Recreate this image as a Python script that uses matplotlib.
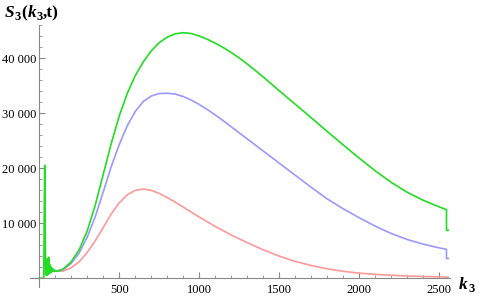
import matplotlib
matplotlib.use("Agg")
import matplotlib.pyplot as plt
from matplotlib.ticker import FixedLocator, FuncFormatter

plt.rcParams['font.family'] = ['Liberation Serif', 'DejaVu Serif']

# ---- data ----
k_green = [0, 28, 31, 34, 37, 40, 44, 48, 52, 56, 60, 64, 68, 72, 76, 80, 85, 90, 95, 100, 110, 120,
           150, 200, 250, 300, 350, 400, 450, 500, 550, 600, 650, 700, 750, 800, 850, 900, 950,
           1000, 1050, 1100, 1150, 1200, 1250, 1300, 1350, 1400, 1450, 1500, 1600, 1700, 1800, 1900,
           2000, 2100, 2200, 2300, 2400, 2500, 2545, 2545.1, 2556]
s_green = [0, 0, 12000, 20500, 9000, 600, 3200, 500, 3600, 700, 3800, 900, 2400, 1000, 2000, 1200, 1700,
           1250, 1500, 1300, 1250, 1300,
           1700, 3000, 5200, 8600, 13300, 18900, 24500, 29500, 33600, 36800, 39300, 41300, 42800,
           43800, 44400, 44600, 44450,
           44000, 43400, 42700, 41900, 41000, 40000, 38900, 37750, 36550, 35300, 34050, 31600, 29150,
           26650, 24200, 21800, 19500, 17400, 15600, 14150, 12950, 12450, 8700, 8700]

k_blue = [50, 100, 150, 200, 250, 300, 350, 400, 450, 500, 550, 600, 650, 700, 750, 800, 850, 900,
          950, 1000, 1050, 1100, 1150, 1200, 1250, 1300, 1350, 1400, 1450, 1500, 1600, 1700, 1800,
          1900, 2000, 2100, 2200, 2300, 2400, 2500, 2545, 2545.1, 2556]
s_blue = [1400, 1300, 1550, 2700, 4600, 7500, 11200, 15700, 20300, 24300, 27700, 30300, 32100, 33100,
          33550, 33600, 33450, 33000,
          32350, 31550, 30650, 29650, 28600, 27500, 26400, 25300, 24200, 23100, 22000, 20900, 18700,
          16500, 14400, 12600, 10970, 9450, 8120, 7030, 6180, 5510, 5250, 3570, 3570]

k_pink = [50, 100, 150, 200, 250, 300, 350, 400, 450, 500, 550, 600, 650, 700, 750, 800, 850, 900,
          1000, 1100, 1200, 1300, 1400, 1500, 1600, 1700, 1800, 1900, 2000, 2100, 2200, 2300, 2400,
          2500, 2556]
s_pink = [1400, 1250, 1300, 1900, 3000, 4700, 6800, 9200, 11700, 13700, 15150, 15950, 16200, 15950,
          15400, 14650, 13800, 12900, 11100, 9400, 7850, 6450, 5150, 4000, 3050, 2300, 1700, 1250, 920,
          700, 530, 400, 310, 250, 180]

x_major = [500, 1000, 1500, 2000, 2500]
y_major = [10000, 20000, 30000, 40000]

# ---- figure ----
fig = plt.figure(figsize=(4.85, 2.99), dpi=100)
ax = fig.add_axes([30/485, 12/299, 420/485, 262/299])
ax.set_xlim(-58, 2567)
ax.set_ylim(-1600, 46000)

ax.plot(k_pink, s_pink, color='#ff9999', lw=1.2, solid_joinstyle='round')
ax.plot(k_blue, s_blue, color='#9999ff', lw=1.2, solid_joinstyle='round')
ax.plot(k_green, s_green, color='#22dd22', lw=1.2, solid_joinstyle='round')

axis_col = '#888888'
for s in ['top', 'right']:
    ax.spines[s].set_visible(False)
ax.spines['left'].set_position(('data', 0))
ax.spines['bottom'].set_position(('data', 0))
for s in ['left', 'bottom']:
    ax.spines[s].set_color(axis_col)
    ax.spines[s].set_linewidth(0.8)

ax.xaxis.set_major_locator(FixedLocator(x_major))
ax.xaxis.set_minor_locator(FixedLocator([v for v in range(100, 2600, 100) if v not in x_major]))
ax.yaxis.set_major_locator(FixedLocator(y_major))
ax.yaxis.set_minor_locator(FixedLocator([v for v in range(2000, 47000, 2000) if v not in y_major]))

ax.yaxis.set_major_formatter(FuncFormatter(lambda v, p: f"{int(v):,}".replace(',', ' ')))
ax.xaxis.set_major_formatter(FuncFormatter(lambda v, p: f"{int(v)}"))

ax.tick_params(which='both', direction='in', color=axis_col, labelsize=9, labelcolor='black')
ax.tick_params(which='major', length=4, width=0.8)
ax.tick_params(which='minor', length=2.3, width=0.6)
ax.tick_params(axis='x', pad=4)
ax.tick_params(axis='y', pad=2)

# ---- bold italic labels built from pieces ----
fig.canvas.draw()
renderer = fig.canvas.get_renderer()


def draw_pieces(x_px, y_px, pieces):
    x = x_px
    for txt, size, dy, italic in pieces:
        t = fig.text(x / 485, 1 - (y_px + dy) / 299, txt, fontsize=size, fontweight='bold',
                     fontstyle='italic' if italic else 'normal', ha='left', va='baseline',
                     family='Liberation Serif')
        bb = t.get_window_extent(renderer)
        x += bb.width + 0.3


draw_pieces(5, 17, [("S", 12.5, 0, True), ("3", 9, 3, False), ("(", 12.5, 0, False),
                    ("k", 12.5, 0, True), ("3", 9, 3, False), (",t)", 12.5, 0, False)])
draw_pieces(459, 289, [("k", 12.5, 0, True), ("3", 9, 3, False)])

fig.savefig('out.png', dpi=100)
